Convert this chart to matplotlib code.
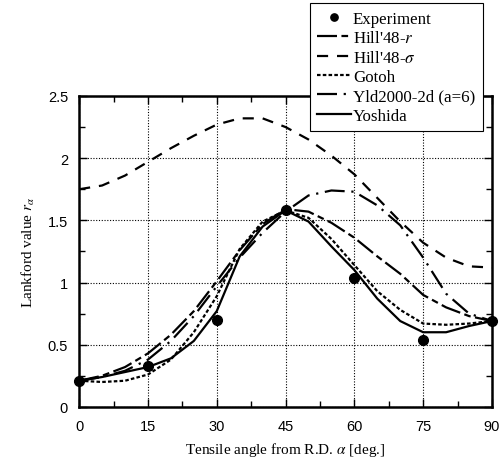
import matplotlib
matplotlib.use("Agg")
import matplotlib.pyplot as plt

plt.rcParams['mathtext.fontset'] = 'stix'

# tensile angle (deg) for the model curves
angle = [0, 5, 10, 15, 20, 25, 30, 35, 40, 45, 50, 55, 60, 65, 70, 75, 80, 85, 90]

exp_angle = [0, 15, 30, 45, 60, 75, 90]
exp_r = [0.21, 0.33, 0.70, 1.58, 1.04, 0.54, 0.69]

hill_r = [0.21, 0.25, 0.32, 0.43, 0.58, 0.77, 1.01, 1.26, 1.47, 1.59, 1.57, 1.48, 1.36, 1.21, 1.07, 0.90, 0.80, 0.73, 0.69]
hill_s = [1.75, 1.78, 1.86, 1.97, 2.08, 2.18, 2.27, 2.32, 2.32, 2.25, 2.15, 2.02, 1.87, 1.68, 1.49, 1.32, 1.20, 1.13, 1.12]
gotoh = [0.21, 0.20, 0.21, 0.26, 0.38, 0.60, 0.89, 1.27, 1.49, 1.58, 1.52, 1.35, 1.14, 0.93, 0.78, 0.67, 0.66, 0.67, 0.69]
yld2000 = [0.21, 0.24, 0.29, 0.38, 0.53, 0.73, 0.97, 1.20, 1.40, 1.57, 1.70, 1.74, 1.73, 1.62, 1.46, 1.20, 0.91, 0.75, 0.69]
yoshida = [0.21, 0.24, 0.28, 0.32, 0.39, 0.53, 0.77, 1.21, 1.45, 1.58, 1.49, 1.29, 1.10, 0.87, 0.69, 0.60, 0.60, 0.65, 0.69]

serif = ['Liberation Serif', 'DejaVu Serif']
sans = ['Liberation Sans', 'DejaVu Sans']

fig = plt.figure(figsize=(5.01, 4.64), dpi=100)
ax = fig.add_axes([0.158, 0.121, 0.824, 0.670])

ax.plot(exp_angle, exp_r, 'o', color='black', markersize=7, label='Experiment', zorder=5, clip_on=False)
ax.plot(angle, hill_r, color='black', lw=1.6, dashes=(9, 2, 3, 2), label="Hill'48-$r$")
ax.plot(angle, hill_s, color='black', lw=1.6, dashes=(5, 4), label="Hill'48-$\\sigma$")
ax.plot(angle, gotoh, color='black', lw=1.6, dashes=(1.6, 1.0), label='Gotoh')
ax.plot(angle, yld2000, color='black', lw=1.6, dashes=(9, 3, 1, 3), label='Yld2000-2d (a=6)')
ax.plot(angle, yoshida, color='black', lw=1.6, label='Yoshida')

ax.set_xlim(0, 90)
ax.set_ylim(0, 2.5)
ax.set_xticks(range(0, 91, 15))
ax.set_xticks([7.5 + 15 * i for i in range(6)], minor=True)
ax.set_yticks([0, 0.5, 1, 1.5, 2, 2.5])
ax.set_yticklabels(['0', '0.5', '1', '1.5', '2', '2.5'])
ax.set_yticks([0.25, 0.75, 1.25, 1.75, 2.25], minor=True)
ax.grid(True, which='major', color='black', linestyle=(0, (1, 1.5)), lw=0.8)
ax.tick_params(which='both', direction='in', top=True, right=True, width=1.0)
ax.tick_params(which='major', length=6, labelsize=10.5)
ax.tick_params(axis='x', which='major', pad=9)
ax.tick_params(axis='y', which='major', pad=8)
ax.tick_params(which='minor', length=4)
for lab in ax.get_xticklabels() + ax.get_yticklabels():
    lab.set_family(sans)
for s in ax.spines.values():
    s.set_linewidth(1.8)

ax.set_xlabel('Tensile angle from R.D. $\\alpha$ [deg.]', family=serif, fontsize=11, labelpad=5)
ax.set_ylabel('Lankford value $r_\\alpha$', family=serif, fontsize=11, labelpad=8)

leg = fig.legend(loc='upper left', bbox_to_anchor=(0.618, 0.991), prop={'family': serif, 'size': 12.2},
                 handlelength=2.0, handletextpad=0.1, labelspacing=0.2, borderpad=0.45,
                 borderaxespad=0, markerscale=0.75,
                 frameon=True, fancybox=False, edgecolor='black', framealpha=1)
leg.get_frame().set_linewidth(0.8)
leg.set_zorder(10)

fig.savefig('out.png', dpi=100)
